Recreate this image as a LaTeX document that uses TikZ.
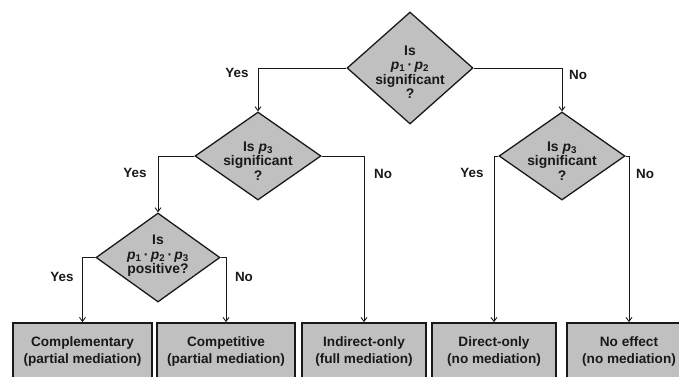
\documentclass[tikz,border=0pt]{standalone}
\usepackage{fontspec}
\setmainfont{Liberation Sans}
\usetikzlibrary{shapes.geometric,arrows.meta}
\definecolor{boxgray}{RGB}{192,192,192}
\definecolor{linecol}{RGB}{25,25,25}
\begin{document}
\begin{tikzpicture}[x=1pt,y=-1pt,
  dia/.style={diamond, draw=linecol, fill=boxgray, line width=1.3pt, inner sep=0pt},
  qtext/.style={align=center, inner sep=0pt, font=\fontsize{13.9}{14.5}\selectfont\bfseries, text=linecol},
  outbox/.style={rectangle, draw=linecol, fill=boxgray, line width=1.8pt, minimum height=57pt, inner sep=0pt,
    align=center, font=\fontsize{13.6}{17}\selectfont\bfseries, text=linecol},
  lab/.style={inner sep=0pt, font=\fontsize{13.4}{15}\selectfont\bfseries, text=linecol},
  conn/.style={draw=linecol, line width=0.9pt, -{Straight Barb[length=4pt,width=6pt]}}]
\useasboundingbox (0,0) rectangle (679,376);
\fill[white] (0,0) rectangle (679,376);
\clip (0,0) rectangle (679,376);

% diamonds
\node[dia, minimum width=126pt, minimum height=112pt] (d1) at (410,68) {};
\node[qtext] (t1) at (410,72) {Is\\\textit{p}\textsubscript{1}\,·\,\textit{p}\textsubscript{2}\\significant\\?};
\node[dia, minimum width=126pt, minimum height=88pt] (d2) at (258,156) {};
\node[qtext] (t2) at (258,161) {Is \textit{p}\textsubscript{3}\\significant\\?};
\node[dia, minimum width=126pt, minimum height=88pt] (d4) at (562,156) {};
\node[qtext] (t4) at (562,161) {Is \textit{p}\textsubscript{3}\\significant\\?};
\node[dia, minimum width=124pt, minimum height=89pt] (d3) at (158,257.5) {};
\node[qtext] (t3) at (158,256) {Is\\\textit{p}\textsubscript{1}\,·\,\textit{p}\textsubscript{2}\,·\,\textit{p}\textsubscript{3}\\positive?};

% outcome boxes
\node[outbox, minimum width=139pt] (b1) at (82.5,351.5) {Complementary\\(partial mediation)};
\node[outbox, minimum width=138pt] (b2) at (226,351.5) {Competitive\\(partial mediation)};
\node[outbox, minimum width=124pt] (b3) at (364,351.5) {Indirect-only\\(full mediation)};
\node[outbox, minimum width=124pt] (b4) at (494,351.5) {Direct-only\\(no mediation)};
\node[outbox, minimum width=124pt] (b5) at (629,351.5) {No effect\\(no mediation)};

% connectors
\draw[conn] (d1.west) -| (d2.north);
\draw[conn] (d1.east) -| (d4.north);
\draw[conn] (d2.west) -| (d3.north);
\draw[conn] (d2.east) -| (b3.north);
\draw[conn] (d3.west) -| (b1.north);
\draw[conn] (d3.east) -| (b2.north);
\draw[conn] (d4.west) -| (b4.north);
\draw[conn] (d4.east) -| (b5.north);

% labels
\node[lab] (l1) at (237,73) {Yes};
\node[lab] (l2) at (578,75) {No};
\node[lab] (l3) at (135,173) {Yes};
\node[lab] (l4) at (383,174) {No};
\node[lab] (l5) at (472,173) {Yes};
\node[lab] (l6) at (645,174) {No};
\node[lab] (l7) at (62,277) {Yes};
\node[lab] (l8) at (244,277) {No};
\end{tikzpicture}
\end{document}
